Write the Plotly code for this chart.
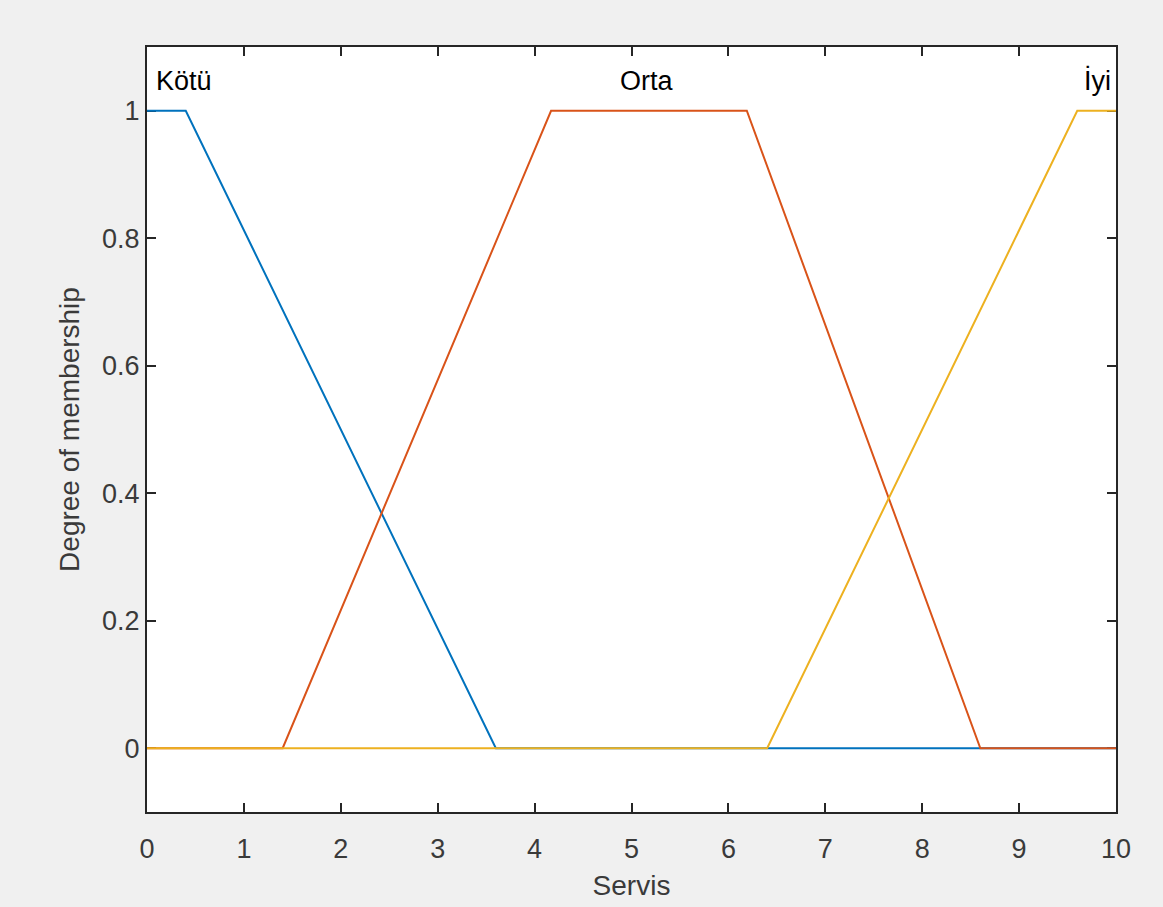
import plotly.graph_objects as go

# Membership functions (x breakpoints, y values)
kotu_x = [0, 0.4, 3.6, 10]
kotu_y = [1, 1, 0, 0]
orta_x = [0, 1.4, 4.17, 6.19, 8.6, 10]
orta_y = [0, 0, 1, 1, 0, 0]
iyi_x = [0, 6.4, 9.6, 10]
iyi_y = [0, 0, 1, 1]

labels = ["Kötü", "Orta", "İyi"]
label_x = [0.07, 5.15, 9.97]
label_anchor = ["left", "center", "right"]
label_y = 1.047

x_ticks = list(range(0, 11))
y_ticks = [0, 0.2, 0.4, 0.6, 0.8, 1]
y_tick_text = ["0", "0.2", "0.4", "0.6", "0.8", "1"]

colors = ["#0072BD", "#D95319", "#EDB120"]
FONT = "Liberation Sans, Arial, Helvetica, sans-serif"
AX = "#262626"

fig = go.Figure()
for xs, ys, c, n in zip([kotu_x, orta_x, iyi_x], [kotu_y, orta_y, iyi_y], colors, labels):
    fig.add_trace(go.Scatter(x=xs, y=ys, mode="lines", name=n,
                             line=dict(color=c, width=2), hoverinfo="skip"))

for t, xv, a in zip(labels, label_x, label_anchor):
    fig.add_annotation(x=xv, y=label_y, xref="x", yref="y", text=t, showarrow=False,
                       xanchor=a, yanchor="middle",
                       font=dict(family=FONT, size=27, color="#000000"))

axis_common = dict(showline=True, linecolor=AX, linewidth=2, mirror="ticks",
                   ticks="inside", ticklen=9, tickwidth=2, tickcolor=AX,
                   showgrid=False, zeroline=False, layer="below traces",
                   tickfont=dict(family=FONT, size=27, color="#3a3a3a"))

fig.update_xaxes(range=[0, 10], tickvals=x_ticks, ticklabelstandoff=12,
                 title=dict(text="Servis", font=dict(family=FONT, size=28, color="#3a3a3a"), standoff=12),
                 **axis_common)
fig.update_yaxes(range=[-0.1, 1.1], tickvals=y_ticks, ticktext=y_tick_text,
                 title=dict(text="Degree of membership", font=dict(family=FONT, size=28, color="#3a3a3a"), standoff=14),
                 **axis_common)

fig.update_layout(
    width=1163, height=907,
    margin=dict(l=147, r=47, t=47, b=95, pad=0),
    paper_bgcolor="#f0f0f0", plot_bgcolor="#ffffff",
    showlegend=False,
)

fig.write_html("out.html", config={"displayModeBar": False},
               post_script="document.body.style.margin='0px';document.body.style.background='#f0f0f0';")
